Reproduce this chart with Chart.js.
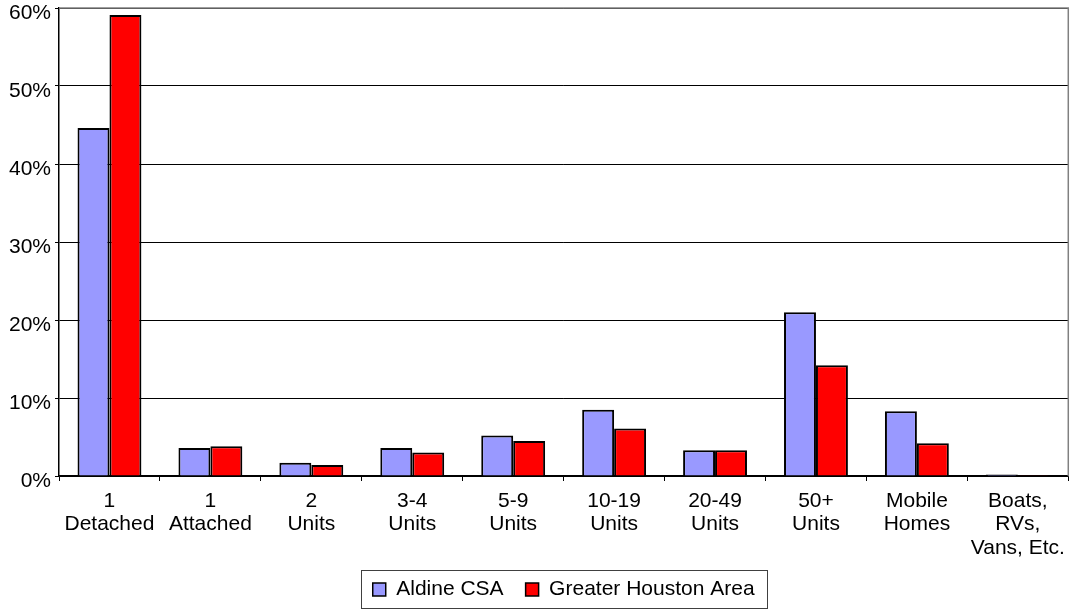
<!DOCTYPE html>
<html>
<head>
<meta charset="utf-8">
<script src="https://cdn.jsdelivr.net/npm/chart.js@4/dist/chart.umd.min.js"></script>
<style>
  body { margin: 0; background: #fff; }
  canvas { display: block; }
</style>
</head>
<body>
<canvas id="chart" width="1073" height="610"></canvas>
<script>
// categories and series values (percent)
const categories = [
  ["1", "Detached"],
  ["1", "Attached"],
  ["2", "Units"],
  ["3-4", "Units"],
  ["5-9", "Units"],
  ["10-19", "Units"],
  ["20-49", "Units"],
  ["50+", "Units"],
  ["Mobile", "Homes"],
  ["Boats,", "RVs,", "Vans, Etc."]
];
const aldine = [44.6, 3.6, 1.7, 3.6, 5.2, 8.5, 3.3, 21.0, 8.3, 0.2];
const houston = [59.1, 3.8, 1.4, 3.0, 4.5, 6.1, 3.3, 14.2, 4.2, 0.1];
const seriesNames = ["Aldine CSA", "Greater Houston Area"];
const yTicks = [0, 10, 20, 30, 40, 50, 60];

const FONT = "'Liberation Sans', Arial, sans-serif";
const LEGEND_PAD = 22;

// gray frame on top and right of the plot area
const frame = {
  id: "frame",
  beforeDatasetsDraw(chart) {
    const { ctx, chartArea: a } = chart;
    ctx.save();
    ctx.strokeStyle = "#808080";
    ctx.lineWidth = 1.5;
    ctx.beginPath();
    ctx.moveTo(a.left, a.top);
    ctx.lineTo(a.right, a.top);
    ctx.lineTo(a.right, a.bottom);
    ctx.stroke();
    ctx.restore();
  }
};

// legend sits centred under the plot area, with a box round it
const legendBox = {
  id: "legendBox",
  afterLayout(chart) {
    const lg = chart.legend;
    const a = chart.chartArea;
    const shift = (a.left + a.right) / 2 - (lg.left + lg.right) / 2;
    lg.left += shift;
    lg.right += shift;
  },
  afterDraw(chart) {
    const lg = chart.legend;
    const itemsW = lg.lineWidths[0] - LEGEND_PAD;
    const cx = (lg.left + lg.right) / 2;
    const l = cx - itemsW / 2 - 12;
    const t = lg.top + LEGEND_PAD - 9;
    const ctx = chart.ctx;
    ctx.save();
    ctx.strokeStyle = "#404040";
    ctx.lineWidth = 1;
    ctx.strokeRect(Math.round(l) + 0.5, Math.round(t) + 0.5, Math.round(itemsW + 24), 38);
    ctx.restore();
  }
};

new Chart(document.getElementById("chart").getContext("2d"), {
  type: "bar",
  data: {
    labels: categories,
    datasets: [
      {
        label: seriesNames[0],
        data: aldine,
        backgroundColor: "#9999FF",
        borderColor: "#000000",
        borderWidth: 2,
        categoryPercentage: 0.633,
        barPercentage: 1.0
      },
      {
        label: seriesNames[1],
        data: houston,
        backgroundColor: "#FF0000",
        borderColor: "#000000",
        borderWidth: 2,
        categoryPercentage: 0.633,
        barPercentage: 1.0
      }
    ]
  },
  options: {
    responsive: false,
    animation: false,
    devicePixelRatio: 1,
    layout: { padding: { top: 8, right: 2, left: 0, bottom: 0 } },
    plugins: {
      tooltip: { enabled: false },
      legend: {
        position: "bottom",
        labels: {
          boxWidth: 13,
          boxHeight: 13,
          padding: LEGEND_PAD,
          color: "#000",
          font: { family: FONT, size: 21 },
          generateLabels(chart) {
            return chart.data.datasets.map((ds, i) => ({
              text: ds.label,
              fillStyle: ds.backgroundColor,
              strokeStyle: "#000",
              lineWidth: 1.5,
              datasetIndex: i
            }));
          }
        }
      }
    },
    scales: {
      x: {
        grid: {
          display: true,
          drawOnChartArea: false,
          drawTicks: true,
          tickLength: 5,
          color: "#000"
        },
        border: { color: "#000", width: 1.5 },
        ticks: {
          color: "#000",
          padding: 8,
          maxRotation: 0,
          autoSkip: false,
          font: { family: FONT, size: 21, lineHeight: 1.13 }
        },
        afterFit(scale) { scale.height = 81; }
      },
      y: {
        min: 0,
        max: 60,
        afterBuildTicks(scale) { scale.ticks = yTicks.map(v => ({ value: v })); },
        grid: { color: "#000", lineWidth: 1, tickLength: 4 },
        border: { color: "#000", width: 1.5 },
        ticks: {
          color: "#000",
          padding: 4,
          labelOffset: 5,
          font: { family: FONT, size: 21 },
          callback: v => v + "%"
        },
        afterFit(scale) {
          scale.width = 59;
          scale.paddingTop = 0;
          scale.paddingBottom = 0;
        }
      }
    }
  },
  plugins: [frame, legendBox]
});
</script>
</body>
</html>
